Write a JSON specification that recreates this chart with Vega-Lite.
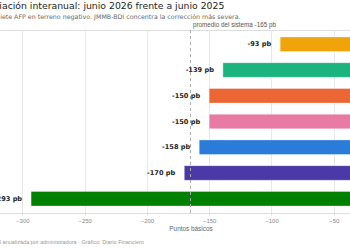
{
  "$schema": "https://vega.github.io/schema/vega-lite/v6.json",
  "width": 411,
  "height": 183,
  "autosize": "none",
  "padding": {"left": -15, "right": -46, "top": 30, "bottom": 37},
  "background": "white",
  "title": {
    "text": "Variación interanual: junio 2026 frente a junio 2025",
    "subtitle": "Las siete AFP en terreno negativo. JMMB-BDI concentra la corrección más severa.",
    "anchor": "start",
    "frame": "group",
    "dx": -0.8,
    "font": "DejaVu Sans",
    "fontSize": 9.3,
    "fontWeight": "normal",
    "color": "#222222",
    "subtitleFont": "DejaVu Sans",
    "subtitleFontSize": 6.3,
    "subtitleColor": "#666666",
    "subtitlePadding": 2,
    "offset": 2
  },
  "datasets": {
    "afps": [
      {"afp": "Reservas", "value": -93, "label": "-93 pb"},
      {"afp": "Popular", "value": -139, "label": "-139 pb"},
      {"afp": "Crecer", "value": -150, "label": "-150 pb"},
      {"afp": "Siembra", "value": -150, "label": "-150 pb"},
      {"afp": "Atlántico", "value": -158, "label": "-158 pb"},
      {"afp": "Romana", "value": -170, "label": "-170 pb"},
      {"afp": "JMMB-BDI", "value": -293, "label": "-293 pb"}
    ],
    "promedio": [
      {"promedio": -165, "nota": "promedio del sistema  -165 pb"}
    ]
  },
  "resolve": {"axis": {"x": "independent"}},
  "layer": [
    {
      "data": {"name": "afps"},
      "mark": {"type": "bar", "stroke": "white", "strokeWidth": 0.6, "strokeOpacity": 0.6},
      "encoding": {
        "x": {
          "field": "value",
          "type": "quantitative",
          "scale": {"domain": [-330, 0], "nice": false, "zero": false},
          "axis": {
            "orient": "bottom",
            "values": [-300, -250, -200, -150, -100, -50, 0],
            "title": "Puntos básicos",
            "titleFont": "Liberation Sans",
            "titleFontSize": 6.4,
            "titleFontWeight": "normal",
            "titleColor": "#666666",
            "titlePadding": 2,
            "labelFont": "Liberation Sans",
            "labelFontSize": 6,
            "labelColor": "#888888",
            "labelPadding": 2,
            "labelFlush": false,
            "grid": true,
            "gridColor": "#e8e8e8",
            "domain": true,
            "domainColor": "#dddddd",
            "ticks": true,
            "tickSize": 2,
            "tickColor": "#dddddd"
          }
        },
        "y": {
          "field": "afp",
          "type": "nominal",
          "sort": "-x",
          "scale": {"paddingInner": 0.43, "paddingOuter": 0.27},
          "axis": {"title": null, "domain": false, "ticks": false, "labelPadding": 70, "labelFontSize": 7}
        },
        "color": {
          "field": "afp",
          "type": "nominal",
          "legend": null,
          "scale": {
            "domain": ["Reservas", "Popular", "Crecer", "Siembra", "Atlántico", "Romana", "JMMB-BDI"],
            "range": ["#f0a30a", "#1db37c", "#eb6535", "#e87ba4", "#2b7bd9", "#4b3aa5", "#008000"]
          }
        }
      }
    },
    {
      "data": {"name": "promedio"},
      "mark": {"type": "rule", "strokeDash": [3, 3], "color": "#aaaaaa", "strokeWidth": 1},
      "encoding": {
        "x": {
          "field": "promedio",
          "type": "quantitative",
          "axis": {
            "orient": "bottom",
            "labels": false,
            "ticks": false,
            "domain": false,
            "grid": false,
            "title": "Rentabilidad real anualizada por administradora  ·  Gráfico: Diario Financiero",
            "titleAnchor": "start",
            "titleAlign": "left",
            "titleBaseline": "alphabetic",
            "titleX": -25.7,
            "titleY": 30,
            "titleFont": "Liberation Sans",
            "titleFontSize": 5.5,
            "titleFontWeight": "normal",
            "titleColor": "#999999"
          }
        }
      }
    },
    {
      "data": {"name": "afps"},
      "mark": {"type": "text", "align": "right", "baseline": "middle", "dx": -9, "font": "DejaVu Sans", "fontWeight": "bold", "fontSize": 6.6, "color": "#222222"},
      "encoding": {
        "x": {"field": "value", "type": "quantitative", "axis": null},
        "y": {"field": "afp", "type": "nominal", "sort": "-x"},
        "text": {"field": "label"}
      }
    },
    {
      "data": {"name": "promedio"},
      "mark": {"type": "text", "align": "left", "baseline": "alphabetic", "dx": 2.5, "dy": -3, "font": "Liberation Sans", "fontSize": 6.3, "color": "#555555"},
      "encoding": {
        "x": {"field": "promedio", "type": "quantitative", "axis": null},
        "y": {"value": 0},
        "text": {"field": "nota"}
      }
    }
  ]
}
